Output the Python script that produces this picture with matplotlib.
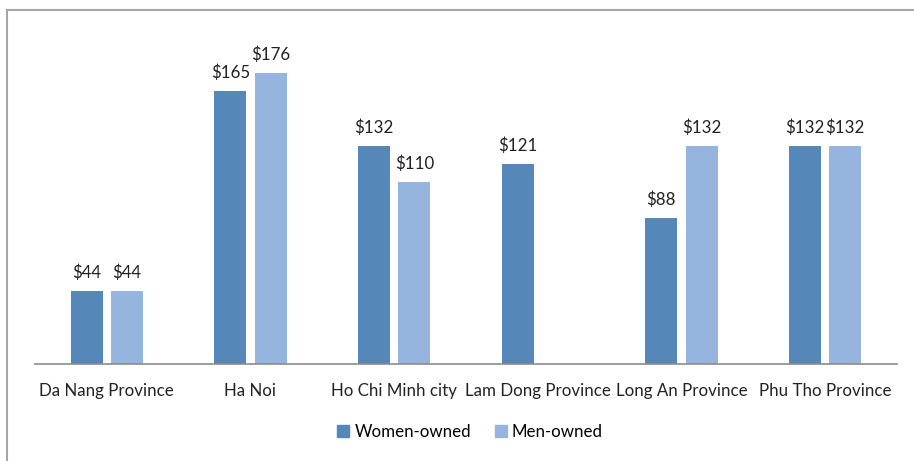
import numpy as np
import matplotlib.pyplot as plt
from matplotlib.lines import Line2D

plt.rcParams['font.family'] = ['Lato', 'DejaVu Sans']

provinces = ['Da Nang Province', 'Ha Noi', 'Ho Chi Minh city',
             'Lam Dong Province', 'Long An Province', 'Phu Tho Province']
women = [44, 165, 132, 121, 88, 132]
men = [44, 176, 110, None, 132, 132]

c_women = '#5587B8'
c_men = '#95B5DE'
fs = 12.2

W, H = 914, 461
fig = plt.figure(figsize=(W / 100, H / 100), dpi=100)
# plot area in pixel terms: x 35..897, baseline at y=364, top at y=33
ax = fig.add_axes([35 / W, 1 - 364 / H, (897 - 35) / W, (364 - 33) / H])

x = np.arange(len(provinces))
bw = 0.223
off = 0.14

for i, (w, m) in enumerate(zip(women, men)):
    ax.bar(i - off, w, width=bw, color=c_women)
    ax.text(i - off, w + 6, f'${w}', ha='center', va='bottom', fontsize=fs, color='#222222')
    if m is not None:
        ax.bar(i + off, m, width=bw, color=c_men)
        ax.text(i + off, m + 6, f'${m}', ha='center', va='bottom', fontsize=fs, color='#222222')

ax.set_xlim(-0.5, len(provinces) - 0.5)
ax.set_ylim(0, 200)
ax.set_xticks(x)
ax.set_xticklabels(provinces, fontsize=fs, color='#222222')
ax.tick_params(axis='x', length=0, pad=14)
ax.set_yticks([])
for s in ['top', 'right', 'left']:
    ax.spines[s].set_visible(False)
ax.spines['bottom'].set_color('#8C8C8C')
ax.spines['bottom'].set_linewidth(1.2)

handles = [plt.Rectangle((0, 0), 1, 1, color=c_women),
           plt.Rectangle((0, 0), 1, 1, color=c_men)]
fig.legend(handles, ['Women-owned', 'Men-owned'], loc='center',
           bbox_to_anchor=(470 / W, 1 - 432 / H), ncol=2, frameon=False,
           fontsize=fs, handlelength=0.7, handleheight=0.7,
           handletextpad=0.3, columnspacing=1.4)

# outer chart frame (left and top edges)
fig.add_artist(Line2D([7.5 / W, 7.5 / W], [0, 1 - 10.5 / H], color='#A6A6A6', lw=1.5))
fig.add_artist(Line2D([7.5 / W, 1], [1 - 10.5 / H, 1 - 10.5 / H], color='#A6A6A6', lw=1.5))

fig.savefig('out.png', dpi=100)
